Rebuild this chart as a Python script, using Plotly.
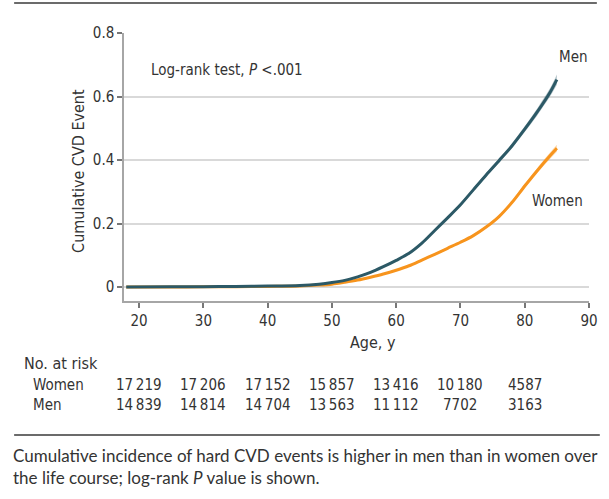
import plotly.graph_objects as go

# ---- data ----
ages = [18, 25, 30, 35, 40, 45, 48, 50, 52, 54, 56, 58, 60, 62, 64, 66, 68, 70, 72, 74, 76, 78, 80, 82, 84, 85]
men = [0, 0.0005, 0.001, 0.002, 0.003, 0.005, 0.009, 0.014, 0.021, 0.032, 0.046, 0.064, 0.084, 0.106, 0.138, 0.178, 0.218, 0.259, 0.306, 0.353, 0.398, 0.444, 0.497, 0.553, 0.615, 0.653]
men_lo = [0, 0.0003, 0.0007, 0.0015, 0.0025, 0.0044, 0.008, 0.0125, 0.019, 0.030, 0.044, 0.061, 0.081, 0.103, 0.134, 0.174, 0.214, 0.254, 0.301, 0.347, 0.391, 0.436, 0.488, 0.542, 0.602, 0.637]
men_hi = [0, 0.0007, 0.0013, 0.0025, 0.0035, 0.0056, 0.010, 0.0155, 0.023, 0.034, 0.048, 0.067, 0.087, 0.109, 0.142, 0.182, 0.222, 0.264, 0.311, 0.359, 0.405, 0.452, 0.506, 0.564, 0.628, 0.669]
women = [0, 0.0003, 0.0005, 0.001, 0.002, 0.003, 0.006, 0.009, 0.015, 0.022, 0.031, 0.041, 0.053, 0.067, 0.085, 0.103, 0.122, 0.141, 0.162, 0.189, 0.222, 0.266, 0.318, 0.368, 0.415, 0.437]
women_lo = [0, 0.0002, 0.0004, 0.0008, 0.0015, 0.0025, 0.005, 0.008, 0.0135, 0.020, 0.029, 0.039, 0.051, 0.065, 0.082, 0.100, 0.119, 0.138, 0.158, 0.185, 0.217, 0.260, 0.311, 0.360, 0.405, 0.426]
women_hi = [0, 0.0004, 0.0006, 0.0012, 0.0025, 0.0035, 0.007, 0.010, 0.0165, 0.024, 0.033, 0.043, 0.055, 0.069, 0.088, 0.106, 0.125, 0.144, 0.166, 0.193, 0.227, 0.272, 0.325, 0.376, 0.425, 0.448]

risk_ages = [20, 30, 40, 50, 60, 70, 80]
risk_women = ["17\u2009219", "17\u2009206", "17\u2009152", "15\u2009857", "13\u2009416", "10\u2009180", "4587"]
risk_men = ["14\u2009839", "14\u2009814", "14\u2009704", "13\u2009563", "11\u2009112", "7702", "3163"]

x_ticks = [20, 30, 40, 50, 60, 70, 80, 90]
y_ticks = [0, 0.2, 0.4, 0.6, 0.8]
y_ticktext = ["0", "0.2", "0.4", "0.6", "0.8"]

MEN_C = "#2c5966"
WOMEN_C = "#f7941d"
FONT = "DejaVu Sans Condensed, sans-serif"
CAP_FONT = "Lato, sans-serif"
TXT = "#333333"

W, H = 609, 499
L, R, T, B = 124, 11, 33, 198
ph = H - T - B


def py(ypx):
    return (H - B - ypx) / ph


def px(xpx):
    return (xpx - L) / (W - L - R)


fig = go.Figure()

for lo, hi, col in [(women_lo, women_hi, "rgba(247,148,29,0.35)"), (men_lo, men_hi, "rgba(44,89,102,0.35)")]:
    fig.add_trace(go.Scatter(x=ages, y=hi, mode="lines", line=dict(width=0, shape="spline", smoothing=0.8),
                             hoverinfo="skip", showlegend=False))
    fig.add_trace(go.Scatter(x=ages, y=lo, mode="lines", line=dict(width=0, shape="spline", smoothing=0.8),
                             fill="tonexty", fillcolor=col, hoverinfo="skip", showlegend=False))

fig.add_trace(go.Scatter(x=ages, y=women, mode="lines",
                         line=dict(color=WOMEN_C, width=3, shape="spline", smoothing=0.8), name="Women"))
fig.add_trace(go.Scatter(x=ages, y=men, mode="lines",
                         line=dict(color=MEN_C, width=3, shape="spline", smoothing=0.8), name="Men"))

fig.update_layout(
    width=W, height=H, autosize=False,
    margin=dict(l=L, r=R, t=T, b=B, pad=0),
    plot_bgcolor="white", paper_bgcolor="white",
    font=dict(family=FONT, color=TXT, size=14),
    showlegend=False,
)
fig.update_xaxes(range=[17.65, 90], tickvals=x_ticks, ticks="outside", ticklen=5, tickwidth=1.5,
                 tickcolor="#777777", showline=True, linecolor="#a6a6a6", linewidth=1.5,
                 showgrid=False, zeroline=False, tickfont=dict(size=15, color=TXT))
fig.update_yaxes(range=[-0.044, 0.8], tickvals=y_ticks, ticktext=y_ticktext, ticks="outside", ticklen=5,
                 tickwidth=1.5, tickcolor="#777777", showline=True, linecolor="#a6a6a6", linewidth=1.5,
                 showgrid=True, gridcolor="#d9d9d9", gridwidth=2, zeroline=False,
                 tickfont=dict(size=15, color=TXT))

ann = []
ann.append(dict(text="Cumulative CVD Event", x=px(77), y=py(171), xref="paper", yref="paper",
                textangle=-90, showarrow=False, font=dict(size=16), xanchor="center", yanchor="middle"))
ann.append(dict(text="Age, y", x=px(378), y=py(342), xref="paper", yref="paper", showarrow=False,
                font=dict(size=16), xanchor="center", yanchor="middle"))
ann.append(dict(text="Log-rank test, <i>P</i> <.001", x=px(229.5), y=py(70), xref="paper", yref="paper",
                showarrow=False, font=dict(size=15), xanchor="center", yanchor="middle"))
ann.append(dict(text="Men", x=px(582), y=py(56.7), xref="paper", yref="paper", showarrow=False,
                font=dict(size=15), xanchor="center", yanchor="middle"))
ann.append(dict(text="Women", x=px(566), y=py(201), xref="paper", yref="paper", showarrow=False,
                font=dict(size=15), xanchor="center", yanchor="middle"))
ann.append(dict(text="No. at risk", x=px(20), y=py(363), xref="paper", yref="paper", showarrow=False,
                font=dict(size=16), xanchor="left", yanchor="middle"))
ann.append(dict(text="Women", x=px(29), y=py(385), xref="paper", yref="paper", showarrow=False,
                font=dict(size=15), xanchor="left", yanchor="middle"))
ann.append(dict(text="Men", x=px(29), y=py(405), xref="paper", yref="paper", showarrow=False,
                font=dict(size=15), xanchor="left", yanchor="middle"))
for a, w, m in zip(risk_ages, risk_women, risk_men):
    ann.append(dict(text=w, x=a, y=py(385), xref="x", yref="paper", showarrow=False,
                    font=dict(size=15), xanchor="center", yanchor="middle"))
    ann.append(dict(text=m, x=a, y=py(405), xref="x", yref="paper", showarrow=False,
                    font=dict(size=15), xanchor="center", yanchor="middle"))
ann.append(dict(text="Cumulative incidence of hard CVD events is higher in men than in women over<br>"
                     "the life course; log-rank <i>P</i> value is shown.",
                x=px(9), y=py(443), xref="paper", yref="paper", showarrow=False, align="left",
                font=dict(size=17, family=CAP_FONT), xanchor="left", yanchor="top"))
fig.update_layout(annotations=ann)

fig.add_shape(type="line", xref="paper", yref="paper", x0=px(12), x1=px(606), y0=py(3), y1=py(3),
              line=dict(color="#6b6b6b", width=2))
fig.add_shape(type="line", xref="paper", yref="paper", x0=px(12), x1=px(609), y0=py(435), y1=py(435),
              line=dict(color="#6b6b6b", width=2))

fig.write_html("out.html")
